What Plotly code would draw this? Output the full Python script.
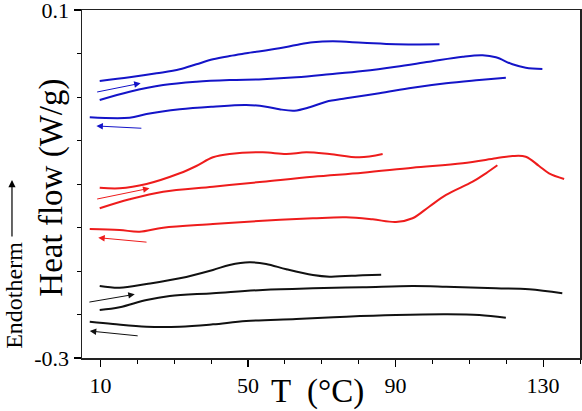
import plotly.graph_objects as go

# ---- data ----
blue_heat1_T = [9.8, 17.9, 25.2, 31.5, 36.0, 40.5, 45.0, 49.5, 58.5, 63.1, 67.6, 73.0, 81.1, 90.1, 101.9]
blue_heat1_y = [0.0184, 0.0226, 0.0272, 0.0318, 0.0376, 0.0433, 0.0471, 0.0502, 0.0560, 0.0598, 0.0629, 0.0640, 0.0624, 0.0606, 0.0606]
blue_heat2_T = [9.8, 17.9, 27.0, 36.0, 45.0, 54.0, 63.1, 72.1, 81.1, 90.1, 99.1, 108.2, 113.6, 117.2, 121.7, 125.3, 129.8]
blue_heat2_y = [-0.0034, 0.0061, 0.0138, 0.0176, 0.0195, 0.0204, 0.0226, 0.0261, 0.0299, 0.0348, 0.0406, 0.0463, 0.0479, 0.0456, 0.0376, 0.0337, 0.0322]
blue_cool_T = [7.1, 17.9, 22.5, 31.5, 40.5, 49.5, 54.9, 58.5, 62.6, 66.7, 71.2, 76.6, 85.6, 94.6, 103.7, 112.7, 119.9]
blue_cool_y = [-0.0233, -0.0238, -0.0195, -0.0141, -0.0111, -0.0092, -0.0111, -0.0141, -0.0157, -0.0118, -0.0054, -0.0015, 0.0043, 0.0107, 0.0158, 0.0195, 0.0222]

red_heat1_T = [9.8, 15.2, 22.5, 31.5, 36.0, 40.5, 45.0, 54.0, 60.4, 65.8, 72.1, 80.2, 86.5]
red_heat1_y = [-0.1042, -0.1049, -0.1000, -0.0877, -0.0793, -0.0693, -0.0655, -0.0636, -0.0655, -0.0636, -0.0655, -0.0693, -0.0655]
red_heat2_T = [9.8, 17.9, 27.0, 40.5, 54.0, 67.6, 81.1, 94.6, 108.2, 117.2, 121.7, 125.3, 128.9, 131.6, 135.7]
red_heat2_y = [-0.1279, -0.1176, -0.1088, -0.1031, -0.0974, -0.0916, -0.0870, -0.0813, -0.0762, -0.0705, -0.0678, -0.0686, -0.0793, -0.0877, -0.0942]
red_cool_T = [7.1, 15.2, 20.6, 27.0, 40.5, 54.0, 67.6, 76.6, 83.8, 90.1, 94.6, 99.1, 103.7, 110.9, 114.5, 117.6]
red_cool_y = [-0.1517, -0.1529, -0.1548, -0.1502, -0.1460, -0.1422, -0.1394, -0.1383, -0.1406, -0.1437, -0.1394, -0.1261, -0.1126, -0.0974, -0.0877, -0.0785]

black_heat1_T = [9.8, 15.2, 22.5, 31.5, 40.5, 45.0, 50.4, 54.9, 60.4, 67.6, 72.1, 81.1, 86.1]
black_heat1_y = [-0.2172, -0.2192, -0.2149, -0.2084, -0.1988, -0.1931, -0.1900, -0.1919, -0.1980, -0.2046, -0.2065, -0.2049, -0.2042]
black_heat2_T = [9.8, 15.2, 22.5, 28.8, 40.5, 54.0, 67.6, 81.1, 94.6, 103.7, 117.2, 126.2, 135.2]
black_heat2_y = [-0.2448, -0.2417, -0.2333, -0.2287, -0.2256, -0.2218, -0.2199, -0.2187, -0.2172, -0.2180, -0.2199, -0.2210, -0.2256]
black_cool_T = [7.1, 13.4, 22.5, 31.5, 40.5, 49.5, 63.1, 76.6, 90.1, 103.7, 112.7, 119.9]
black_cool_y = [-0.2583, -0.2609, -0.2640, -0.2640, -0.2613, -0.2575, -0.2552, -0.2525, -0.2506, -0.2498, -0.2506, -0.2537]

# direction arrows: (tail T, tail y, head T, head y)
blue_arrows = [(8.7, 0.0054, 20.9, 0.0158), (21.5, -0.0360, 8.9, -0.0333)]
red_arrows = [(8.7, -0.1176, 23.3, -0.1049), (22.9, -0.1670, 9.4, -0.1617)]
black_arrows = [(6.6, -0.2360, 19.3, -0.2268), (20.5, -0.2747, 7.1, -0.2690)]

x_ticks = [10, 50, 90, 130]
y_ticks = [-0.3, 0.1]
y_ticktext = ["-0.3", "0.1"]

BLUE = "#1414c8"
RED = "#ee1c1c"
BLACK = "#111111"
FONT = "Liberation Serif"

series = [
    (blue_heat1_T, blue_heat1_y, BLUE), (blue_heat2_T, blue_heat2_y, BLUE), (blue_cool_T, blue_cool_y, BLUE),
    (red_heat1_T, red_heat1_y, RED), (red_heat2_T, red_heat2_y, RED), (red_cool_T, red_cool_y, RED),
    (black_heat1_T, black_heat1_y, BLACK), (black_heat2_T, black_heat2_y, BLACK), (black_cool_T, black_cool_y, BLACK),
]

fig = go.Figure()
for T, y, c in series:
    fig.add_trace(go.Scatter(x=T, y=y, mode="lines", line=dict(color=c, width=2, shape="spline", smoothing=1.0),
                             showlegend=False, hoverinfo="skip"))

annotations = []
for arrows, c in [(blue_arrows, BLUE), (red_arrows, RED), (black_arrows, BLACK)]:
    for t0, y0, t1, y1 in arrows:
        annotations.append(dict(x=t1, y=y1, ax=t0, ay=y0, xref="x", yref="y", axref="x", ayref="y",
                                showarrow=True, arrowhead=2, arrowsize=1.3, arrowwidth=1, arrowcolor=c, text=""))

# axis titles and endotherm marker
annotations.append(dict(x=0.472, y=-0.095, xref="paper", yref="paper", text="T  (°C)", showarrow=False,
                        font=dict(family=FONT, size=33, color="black"), xanchor="center", yanchor="middle"))
annotations.append(dict(x=-0.063, y=0.4885, xref="paper", yref="paper", text="Heat flow (W/g)", showarrow=False,
                        textangle=-90, font=dict(family=FONT, size=33, color="black"), xanchor="center", yanchor="middle"))
annotations.append(dict(x=-0.137, y=0.181, xref="paper", yref="paper", text="Endotherm", showarrow=False,
                        textangle=-90, font=dict(family=FONT, size=24, color="black"), xanchor="center", yanchor="middle"))
annotations.append(dict(x=-0.1406, y=0.5115, xref="paper", yref="paper", ax=0, ay=58, axref="pixel", ayref="pixel",
                        showarrow=True, arrowhead=2, arrowsize=1.2, arrowwidth=1.2, arrowcolor="black", text=""))

fig.update_layout(
    width=582, height=411,
    margin=dict(l=82, r=2, t=10, b=53, autoexpand=False),
    paper_bgcolor="white", plot_bgcolor="white",
    annotations=annotations,
    font=dict(family=FONT, color="black"),
)
fig.update_xaxes(range=[5, 140], tickmode="array", tickvals=x_ticks, ticktext=[str(v) for v in x_ticks],
                 ticks="outside", ticklen=7, tickwidth=1.2, tickcolor="black", automargin=False,
                 minor=dict(dtick=10, tick0=0, ticks="outside", ticklen=4, tickcolor="black", tickwidth=1),
                 showline=True, linecolor="#222", linewidth=1.5, mirror=True, showgrid=False, zeroline=False,
                 ticklabeloverflow="allow",
                 tickfont=dict(family=FONT, size=22, color="black"))
fig.update_yaxes(range=[-0.3, 0.1], tickmode="array", tickvals=y_ticks, ticktext=y_ticktext,
                 ticks="outside", ticklen=7, tickwidth=1.2, tickcolor="black", automargin=False,
                 minor=dict(tickvals=[-0.25, -0.2, -0.15, -0.1, -0.05, 0.0, 0.05], ticks="outside", ticklen=4,
                            tickcolor="black", tickwidth=1),
                 showline=True, linecolor="#222", linewidth=1.5, mirror=True, showgrid=False, zeroline=False,
                 ticklabeloverflow="allow",
                 tickfont=dict(family=FONT, size=22, color="black"))

fig.write_html("out.html", config={"displayModeBar": False, "staticPlot": True},
               post_script="document.body.style.margin='0';document.body.style.overflow='hidden';")
